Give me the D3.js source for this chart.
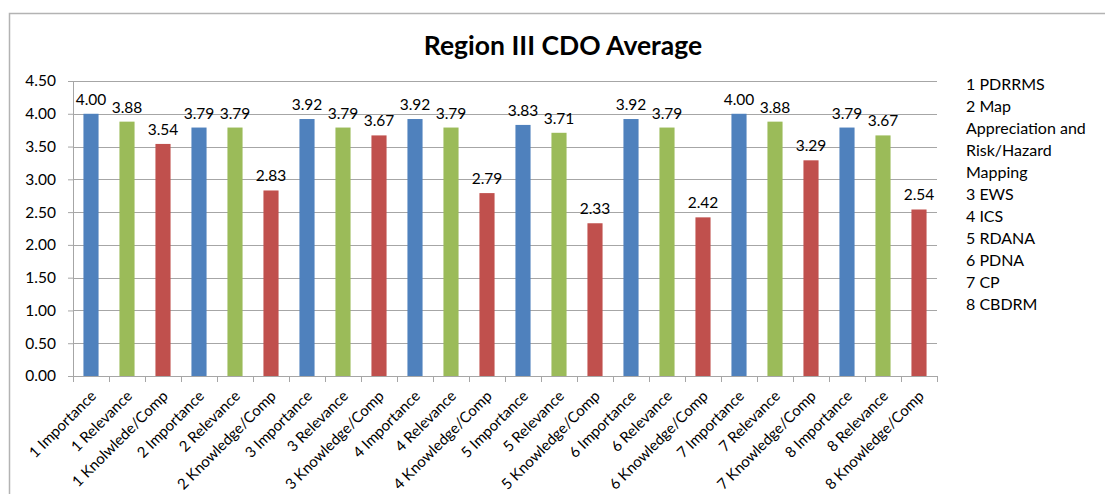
<!DOCTYPE html>
<html>
<head>
<meta charset="utf-8">
<script src="https://cdn.jsdelivr.net/npm/d3@7"></script>
<style>
  body { margin: 0; background: #fff; }
  text { font-family: Lato, "Open Sans", sans-serif; fill: #000; }
</style>
</head>
<body>
<div id="chart"></div>
<script>
// chart data
var categories = [
  "1 Importance", "1 Relevance", "1 Knolwlede/Comp",
  "2 Importance", "2 Relevance", "2 Knowledge/Comp",
  "3 Importance", "3 Relevance", "3 Knowledge/Comp",
  "4 Importance", "4 Relevance", "4 Knowledge/Comp",
  "5 Importance", "5 Relevance", "5 Knowledge/Comp",
  "6 Importance", "6 Relevance", "6 Knowledge/Comp",
  "7 Importance", "7 Relevance", "7 Knowledge/Comp",
  "8 Importance", "8 Relevance", "8 Knowledge/Comp"
];
var values = [
  4.00, 3.88, 3.54,
  3.79, 3.79, 2.83,
  3.92, 3.79, 3.67,
  3.92, 3.79, 2.79,
  3.83, 3.71, 2.33,
  3.92, 3.79, 2.42,
  4.00, 3.88, 3.29,
  3.79, 3.67, 2.54
];
var yTicks = [0, 0.5, 1, 1.5, 2, 2.5, 3, 3.5, 4, 4.5];
var legendLines = [
  "1 PDRRMS", "2 Map", "Appreciation and", "Risk/Hazard", "Mapping",
  "3 EWS", "4 ICS", "5 RDANA", "6 PDNA", "7 CP", "8 CBDRM"
];
var colors = ["#4F81BD", "#9BBB59", "#C0504D"];

var W = 1105, H = 494;
var margin = {top: 81, right: 168, bottom: 118, left: 73};
var width = W - margin.left - margin.right,
    height = H - margin.top - margin.bottom;

var svg = d3.select("#chart")
  .append("svg")
  .attr("width", W)
  .attr("height", H);

// outer chart border
svg.append("rect")
  .attr("x", 9.5).attr("y", 13.5)
  .attr("width", 1200).attr("height", 600)
  .style("fill", "none")
  .style("stroke", "#b3b3b3")
  .style("stroke-width", 1.5);

svg.append("text")
  .attr("x", 563).attr("y", 55)
  .attr("text-anchor", "middle")
  .style("font-size", "26.5px")
  .style("font-weight", "bold")
  .text("Region III CDO Average");

var g = svg.append("g")
  .attr("transform", "translate(" + margin.left + "," + margin.top + ")");

var x = d3.scaleBand()
  .domain(categories)
  .range([0, width])
  .paddingInner(0.58)
  .paddingOuter(0.29);

var y = d3.scaleLinear()
  .domain([0, 4.5])
  .range([height, 0]);

// gridlines
g.append("g")
  .selectAll("line")
  .data(yTicks.slice(1))
  .enter()
  .append("line")
    .attr("x1", 0).attr("x2", width)
    .attr("y1", function(d) { return Math.round(y(d)) + 0.5; })
    .attr("y2", function(d) { return Math.round(y(d)) + 0.5; })
    .style("stroke", "#a6a6a6");

// y axis
var yAxis = g.append("g")
  .call(d3.axisLeft(y).tickValues(yTicks).tickSize(5).tickPadding(12)
    .tickFormat(d3.format(".2f")));
yAxis.select(".domain").style("stroke", "#a6a6a6");
yAxis.selectAll(".tick line").style("stroke", "#a6a6a6");
yAxis.selectAll("text").style("font-size", "15.5px").style("font-family", "Lato, sans-serif");

// bars
g.append("g")
  .selectAll("rect")
  .data(values)
  .enter()
  .append("rect")
    .attr("x", function(d, i) { return x(categories[i]); })
    .attr("y", function(d) { return y(d); })
    .attr("width", x.bandwidth())
    .attr("height", function(d) { return height - y(d); })
    .style("fill", function(d, i) { return colors[i % 3]; });

// value labels
g.append("g")
  .selectAll("text")
  .data(values)
  .enter()
  .append("text")
    .attr("x", function(d, i) { return x(categories[i]) + x.bandwidth() / 2; })
    .attr("y", function(d) { return y(d) - 9; })
    .attr("text-anchor", "middle")
    .style("font-size", "15.5px")
    .text(function(d) { return d.toFixed(2); });

// x axis with ticks at band edges
var xAxisG = g.append("g")
  .attr("transform", "translate(0," + height + ")");
xAxisG.append("line")
  .attr("x1", 0).attr("x2", width)
  .attr("y1", 0.5).attr("y2", 0.5)
  .style("stroke", "#a6a6a6");
xAxisG.selectAll(".xtick")
  .data(d3.range(categories.length + 1))
  .enter()
  .append("line")
    .attr("x1", function(i) { return Math.round(i * width / categories.length) + 0.5; })
    .attr("x2", function(i) { return Math.round(i * width / categories.length) + 0.5; })
    .attr("y1", 0).attr("y2", 6)
    .style("stroke", "#a6a6a6");
xAxisG.selectAll(".xlabel")
  .data(categories)
  .enter()
  .append("text")
    .attr("transform", function(d) {
      return "translate(" + (x(d) + x.bandwidth() / 2 + 6) + ",21) rotate(-45)";
    })
    .attr("text-anchor", "end")
    .style("font-size", "15px")
    .text(function(d) { return d; });

// legend text
svg.append("g")
  .selectAll("text")
  .data(legendLines)
  .enter()
  .append("text")
    .attr("x", 966)
    .attr("y", function(d, i) { return 90 + i * 22; })
    .style("font-size", "16px")
    .text(function(d) { return d; });
</script>
</body>
</html>
